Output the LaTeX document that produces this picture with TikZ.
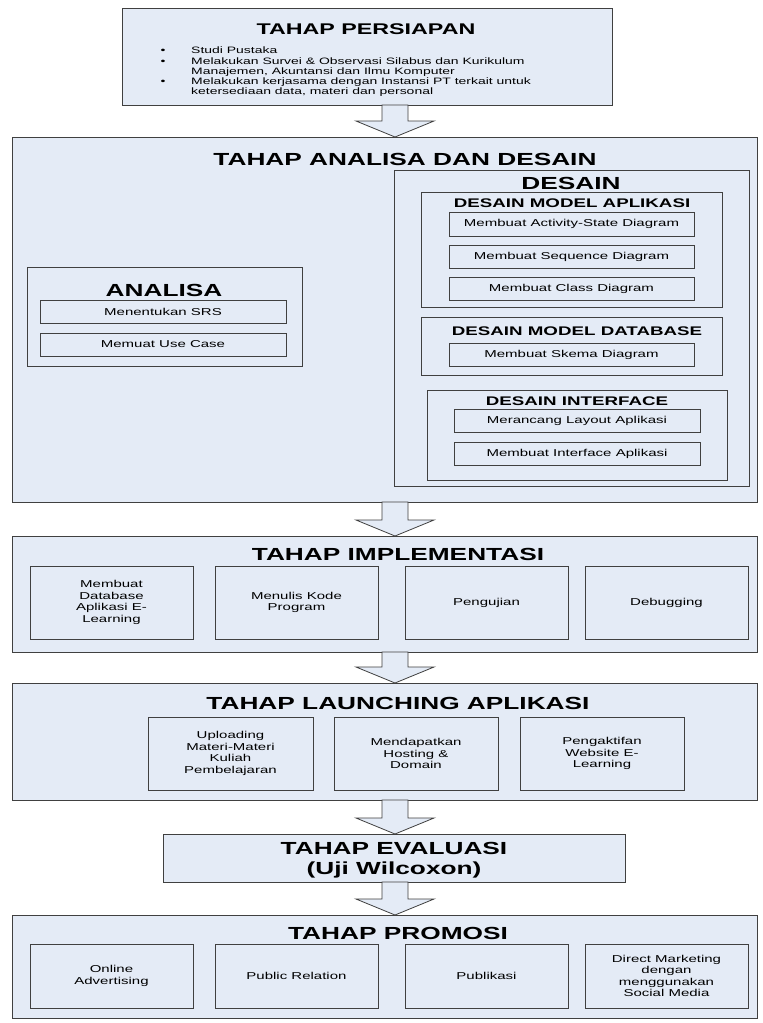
\documentclass[tikz,border=0pt]{standalone}
\usepackage{fontspec}
\setmainfont{Liberation Sans}[FakeStretch=1.5]
\usetikzlibrary{calc,fit}
\definecolor{boxfill}{RGB}{228,235,246}
\definecolor{boxline}{RGB}{64,64,64}
\newcommand\barrow[2]{%
  \draw[arr] let \p1=(#1.south), \p2=(#2.north) in
   (382pt,\y1) -- (408pt,\y1) -- (408pt,\y2+16pt) -- (434pt,\y2+16pt) -- (395pt,\y2)
   -- (356pt,\y2+16pt) -- (382pt,\y2+16pt) -- cycle;}
\begin{document}
\begin{tikzpicture}[x=1pt,y=-1pt,
  box/.style={draw=boxline, fill=boxfill, line width=0.8pt, inner sep=0pt, outer sep=0pt},
  stxt/.style={inner sep=0pt, align=center, font=\fontsize{10}{11.5}\selectfont},
  ttl/.style={inner sep=0pt, font=\fontsize{17.5}{20}\selectfont\bfseries, align=center},
  stl/.style={inner sep=0pt, font=\fontsize{12.5}{14}\selectfont\bfseries},
  bul/.style={inner sep=0pt, font=\fontsize{9.3}{10}\selectfont, text height=7pt, text depth=2pt},
  arr/.style={draw=boxline, fill=boxfill, line width=0.8pt, line join=miter}]
\fill[white] (0,0) rectangle (763,1023);
\useasboundingbox (0,0) rectangle (763,1023);

% TAHAP PERSIAPAN
\node[box, fit={(122,8) (612,105)}] (P) {};
\node[ttl, font=\fontsize{15.5}{18}\selectfont\bfseries] (tP) at (366,29) {TAHAP PERSIAPAN};
\node[bul] (b1) at (163,51) {•};
\node[bul, anchor=west] (l1) at (191,51) {Studi Pustaka};
\node[bul] (b2) at (163,62) {•};
\node[bul, anchor=west] (l2) at (191,62) {Melakukan Survei \& Observasi Silabus dan Kurikulum};
\node[bul, anchor=west] (l3) at (191,72) {Manajemen, Akuntansi dan Ilmu Komputer};
\node[bul] (b3) at (163,82) {•};
\node[bul, anchor=west] (l4) at (191,82) {Melakukan kerjasama dengan Instansi PT terkait untuk};
\node[bul, anchor=west] (l5) at (191,92) {ketersediaan data, materi dan personal};

% TAHAP ANALISA DAN DESAIN
\node[box, fit={(12,137) (757,502)}] (AD) {};
\node[ttl] (tAD) at (405,159) {TAHAP ANALISA DAN DESAIN};

\node[box, fit={(27,267) (302,366)}] (AN) {};
\node[ttl] (tAN) at (164,290) {ANALISA};
\node[box, fit={(40,300) (286,323)}] (srs) {};
\node[stxt] (srsT) at (srs.center) {Menentukan SRS};
\node[box, fit={(40,333) (286,356)}] (uc) {};
\node[stxt] (ucT) at (uc.center) {Memuat Use Case};

\node[box, fit={(394,170) (749,486)}] (DS) {};
\node[ttl] (tDS) at (571,183) {DESAIN};

\node[box, fit={(421,192) (722,307)}] (DMA) {};
\node[stl] (tDMA) at (572,203) {DESAIN MODEL APLIKASI};
\node[box, fit={(449,212) (694,236)}] (act) {};
\node[stxt] (actT) at (act.center) {Membuat Activity-State Diagram};
\node[box, fit={(449,245) (694,268)}] (seq) {};
\node[stxt] (seqT) at (seq.center) {Membuat Sequence Diagram};
\node[box, fit={(449,277) (694,300)}] (cls) {};
\node[stxt] (clsT) at (cls.center) {Membuat Class Diagram};

\node[box, fit={(421,317) (722,375)}] (DMD) {};
\node[stl] (tDMD) at (577,331) {DESAIN MODEL DATABASE};
\node[box, fit={(449,343) (694,366)}] (skm) {};
\node[stxt] (skmT) at (skm.center) {Membuat Skema Diagram};

\node[box, fit={(427,390) (727,480)}] (DI) {};
\node[stl] (tDI) at (577,401) {DESAIN INTERFACE};
\node[box, fit={(454,409) (700,432)}] (lay) {};
\node[stxt] (layT) at (lay.center) {Merancang Layout Aplikasi};
\node[box, fit={(454,442) (700,465)}] (int) {};
\node[stxt] (intT) at (int.center) {Membuat Interface Aplikasi};

% TAHAP IMPLEMENTASI
\node[box, fit={(12,536) (757,652)}] (IM) {};
\node[ttl] (tIM) at (398,554) {TAHAP IMPLEMENTASI};
\node[box, fit={(30,566) (193,639)}] (im1) {};
\node[stxt] (im1T) at (im1.center) {Membuat\\Database\\Aplikasi E-\\Learning};
\node[box, fit={(215,566) (378,639)}] (im2) {};
\node[stxt] (im2T) at (im2.center) {Menulis Kode\\Program};
\node[box, fit={(405,566) (568,639)}] (im3) {};
\node[stxt] (im3T) at (im3.center) {Pengujian};
\node[box, fit={(585,566) (748,639)}] (im4) {};
\node[stxt] (im4T) at (im4.center) {Debugging};

% TAHAP LAUNCHING APLIKASI
\node[box, fit={(12,683) (757,800)}] (LA) {};
\node[ttl] (tLA) at (398,703) {TAHAP LAUNCHING APLIKASI};
\node[box, fit={(148,717) (313,790)}] (la1) {};
\node[stxt] (la1T) at (la1.center) {Uploading\\Materi-Materi\\Kuliah\\Pembelajaran};
\node[box, fit={(334,717) (498,790)}] (la2) {};
\node[stxt] (la2T) at (la2.center) {Mendapatkan\\Hosting \&\\Domain};
\node[box, fit={(520,717) (684,790)}] (la3) {};
\node[stxt] (la3T) at (la3.center) {Pengaktifan\\Website E-\\Learning};

% TAHAP EVALUASI
\node[box, fit={(163,834) (625,882)}] (EV) {};
\node[ttl] (tEV) at (394,860) {TAHAP EVALUASI\\(Uji Wilcoxon)};

% TAHAP PROMOSI
\node[box, fit={(12,915) (757,1018)}] (PR) {};
\node[ttl] (tPR) at (398,933) {TAHAP PROMOSI};
\node[box, fit={(30,944) (193,1008)}] (pr1) {};
\node[stxt] (pr1T) at (pr1.center) {Online\\Advertising};
\node[box, fit={(215,944) (378,1008)}] (pr2) {};
\node[stxt] (pr2T) at (pr2.center) {Public Relation};
\node[box, fit={(405,944) (568,1008)}] (pr3) {};
\node[stxt] (pr3T) at (pr3.center) {Publikasi};
\node[box, fit={(585,944) (748,1008)}] (pr4) {};
\node[stxt] (pr4T) at (pr4.center) {Direct Marketing\\dengan\\menggunakan\\Social Media};

% block arrows
\barrow{P}{AD}
\barrow{AD}{IM}
\barrow{IM}{LA}
\barrow{LA}{EV}
\barrow{EV}{PR}
\end{tikzpicture}
\end{document}
